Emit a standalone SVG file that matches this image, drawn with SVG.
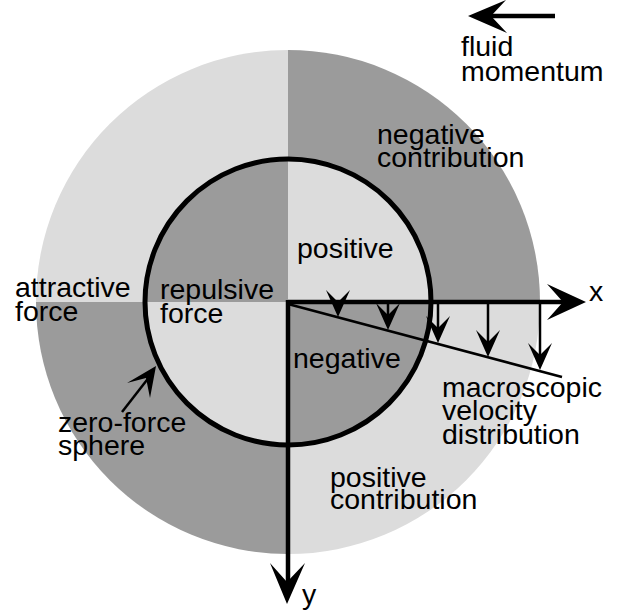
<svg xmlns="http://www.w3.org/2000/svg" width="619" height="615" viewBox="0 0 619 615">
<style>
.light{fill:#dcdcdc}
.dark{fill:#9b9b9b}
text{font-family:"Liberation Sans",Arial,sans-serif;font-size:28.5px;fill:#000}
.axis{stroke:#000;stroke-width:4.5;fill:none}
.thin{stroke:#000;stroke-width:2.5;fill:none}
.head{fill:#000;stroke:none}
</style>
<defs>
<path id="vhead" d="M0,0 L-12,-27 L0,-15 L12,-27 Z"/>
</defs>
<rect width="619" height="615" fill="#fff"/>
<g id="outer-ring">
<path class="light" d="M288,302 L288,50 A252,252 0 0 0 36,302 Z"/>
<path class="dark" d="M288,302 L288,50 A252,252 0 0 1 540,302 Z"/>
<path class="light" d="M288,302 L540,302 A252,252 0 0 1 288,554 Z"/>
<path class="dark" d="M288,302 L288,554 A252,252 0 0 1 36,302 Z"/>
</g>
<g id="zero-force-sphere">
<path class="dark" d="M288,302 L288,159 A143,143 0 0 0 145,302 Z"/>
<path class="light" d="M288,302 L288,159 A143,143 0 0 1 431,302 Z"/>
<path class="dark" d="M288,302 L431,302 A143,143 0 0 1 288,445 Z"/>
<path class="light" d="M288,302 L288,445 A143,143 0 0 1 145,302 Z"/>
<circle cx="288" cy="302" r="143" fill="none" stroke="#000" stroke-width="5"/>
</g>
<g id="connectors">
<line class="axis" x1="288" y1="302" x2="566" y2="302"/>
<path class="head" d="M586,302 L547,284 L563,302 L547,320 Z"/>
<line class="axis" x1="288" y1="300" x2="288" y2="584"/>
<path class="head" d="M287,604 L270,563 L287,582 L305,563 Z"/>
<line class="thin" x1="288" y1="304" x2="562" y2="377"/>
<g id="velocity-arrows">
<line class="thin" x1="338" y1="302" x2="338" y2="305"/>
<use href="#vhead" x="338" y="317"/>
<line class="thin" x1="388" y1="302" x2="388" y2="318"/>
<use href="#vhead" x="388" y="330"/>
<line class="thin" x1="438" y1="302" x2="438" y2="331"/>
<use href="#vhead" x="438" y="343"/>
<line class="thin" x1="488" y1="302" x2="488" y2="344"/>
<use href="#vhead" x="488" y="357"/>
<line class="thin" x1="540" y1="302" x2="540" y2="358"/>
<use href="#vhead" x="540" y="370"/>
</g>
<line class="axis" x1="490" y1="16" x2="555" y2="16"/>
<path class="head" d="M468,16 L506,0 L491,16 L507,33 Z"/>
<line class="thin" x1="122" y1="412" x2="150" y2="376"/>
<path class="head" d="M156,366 L127,383 L146,378 L150,398 Z"/>
</g>
<g id="label-fluid-momentum"><text x="461" y="56">fluid<tspan x="461" y="81">momentum</tspan></text></g>
<g id="label-negative-contribution"><text x="377" y="144">negative<tspan x="377" y="167">contribution</tspan></text></g>
<g id="label-positive"><text x="297" y="258">positive</text></g>
<g id="label-attractive-force"><text x="15" y="297">attractive<tspan x="15" y="321">force</tspan></text></g>
<g id="label-repulsive-force"><text x="160" y="299">repulsive<tspan x="160" y="323">force</tspan></text></g>
<g id="label-negative"><text x="293" y="368">negative</text></g>
<g id="label-x"><text x="589" y="301">x</text></g>
<g id="label-y"><text x="302" y="604">y</text></g>
<g id="label-macroscopic"><text x="442" y="397">macroscopic<tspan x="442" y="420">velocity</tspan><tspan x="442" y="444">distribution</tspan></text></g>
<g id="label-zero-force"><text x="58" y="432">zero-force<tspan x="58" y="455">sphere</tspan></text></g>
<g id="label-positive-contribution"><text x="330" y="487">positive<tspan x="330" y="509">contribution</tspan></text></g>
</svg>
